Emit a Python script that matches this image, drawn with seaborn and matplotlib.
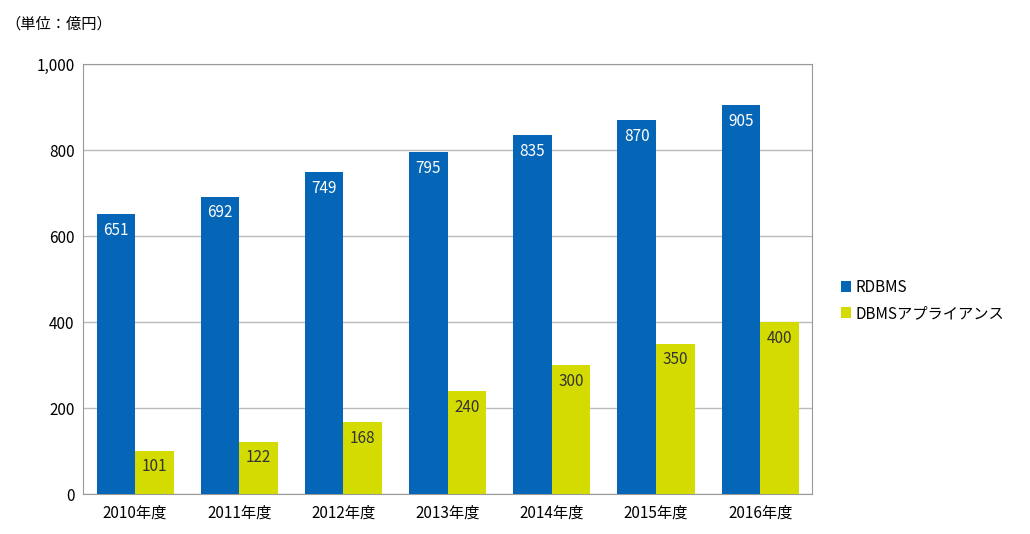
import matplotlib
matplotlib.use("Agg")
import matplotlib.pyplot as plt
import seaborn as sns
import pandas as pd

years = ["2010年度", "2011年度", "2012年度", "2013年度", "2014年度", "2015年度", "2016年度"]
rdbms = [651, 692, 749, 795, 835, 870, 905]
appliance = [101, 122, 168, 240, 300, 350, 400]
series_names = ["RDBMS", "DBMSアプライアンス"]
colors = ["#0565B6", "#D4DB00"]

plt.rcParams["font.family"] = "Noto Sans CJK JP"
df = pd.DataFrame({
    "year": years * 2,
    "value": rdbms + appliance,
    "series": [series_names[0]] * len(years) + [series_names[1]] * len(years),
})

fig = plt.figure(figsize=(10.3, 5.34), dpi=100)
ax = fig.add_axes([0.0806, 0.0749, 0.708, 0.805])
sns.barplot(data=df, x="year", y="value", hue="series", palette=colors,
            width=0.74, saturation=1, ax=ax, zorder=3)
ax.set_ylim(0, 1000)
ax.set_yticks(range(0, 1001, 200))
ax.set_yticklabels([f"{v:,}" for v in range(0, 1001, 200)], fontsize=11)
ax.tick_params(axis="x", labelsize=11, length=0, pad=8)
ax.tick_params(axis="y", length=0, pad=6)
ax.set_xlabel("")
ax.set_ylabel("")
ax.grid(axis="y", color="#BBBBBB", linewidth=1, zorder=0)
for s in ax.spines.values():
    s.set_color("#999999")

for cont, tc in zip(ax.containers, ["white", "#333333"]):
    for bar in cont:
        h = bar.get_height()
        ax.text(bar.get_x() + bar.get_width() / 2, h - 18, f"{int(h)}",
                ha="center", va="top", color=tc, fontsize=11, zorder=4)

ax.legend(loc="center left", bbox_to_anchor=(1.02, 0.45), frameon=False,
          fontsize=11, handlelength=0.7, handleheight=0.7, handletextpad=0.3,
          labelspacing=0.6)
fig.text(0.005, 0.955, "（単位：億円）", fontsize=11, ha="left", va="center")
fig.savefig("out.png", dpi=100)
